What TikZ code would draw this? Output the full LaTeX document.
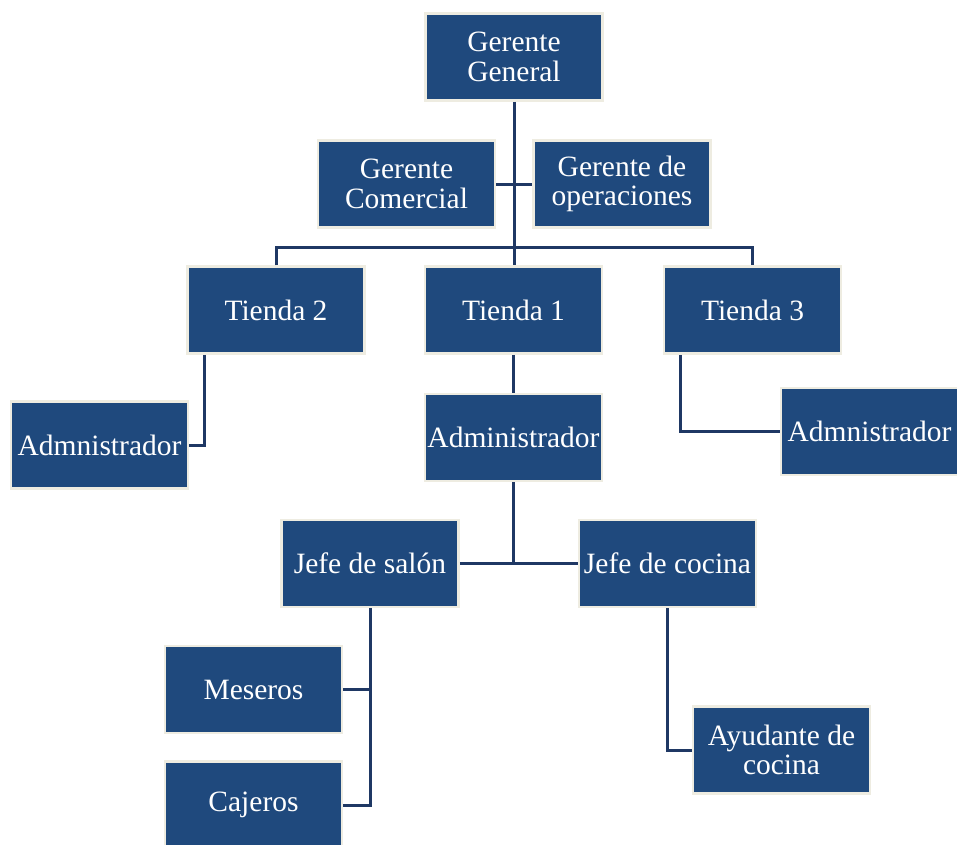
\documentclass[tikz,border=0pt]{standalone}
\usepackage{fontspec}
\setmainfont{Liberation Serif}
\usetikzlibrary{calc}
\definecolor{boxblue}{HTML}{1F497D}
\definecolor{boxedge}{HTML}{EEECE1}
\definecolor{linkblue}{HTML}{1F3864}
\tikzset{
  orgbox/.style={rectangle, fill=boxblue, draw=boxedge, line width=2.5pt,
    minimum width=177pt, minimum height=87pt, inner sep=0pt,
    text=white, align=center,
    font=\fontsize{29.5}{29.5}\selectfont},
  link/.style={draw=linkblue, line width=3pt}
}
\begin{document}
\begin{tikzpicture}[x=1pt, y=-1pt]
  \clip (0,0) rectangle (957,844);
  \fill[white] (0,0) rectangle (957,844);

  % top management
  \node[orgbox] (gg) at (514,57) {Gerente\\General};
  \node[orgbox] (gc) at (406.5,184) {Gerente\\Comercial};
  \node[orgbox] (go) at (622,184) {Gerente de\\operaciones};

  % stores
  \node[orgbox] (t2) at (276,310) {Tienda 2};
  \node[orgbox] (t1) at (513.5,310) {Tienda 1};
  \node[orgbox] (t3) at (752.5,310) {Tienda 3};

  % store administrators
  \node[orgbox] (a2) at (99.5,445) {Admnistrador};
  \node[orgbox] (a1) at (513.5,437.5) {Administrador};
  \node[orgbox] (a3) at (869.5,431.5) {Admnistrador};

  % store 1 staff
  \node[orgbox] (js) at (370,563.5) {Jefe de salón};
  \node[orgbox] (jc) at (667.5,563.5) {Jefe de cocina};
  \node[orgbox] (ms) at (253.5,689.5) {Meseros};
  \node[orgbox] (cj) at (253.5,805) {Cajeros};
  \node[orgbox] (ac) at (781.5,750) {Ayudante de\\cocina};

  % connectors
  \coordinate (bus) at ($(gg.south)+(0,146)$);
  \draw[link] (gg.south) -- (gg.south |- t1.north);
  \draw[link] (gc.east) -- (go.west);
  \draw[link] (t2.north) |- (bus) -| (t3.north);

  \draw[link] ($(t2.south west)+(18,0)$) |- (a2.east);
  \draw[link] (t1.south) -- (a1.north);
  \draw[link] ($(t3.south west)+(18,0)$) |- (a3.west);

  \draw[link] (js.east) -- (jc.west);
  \draw[link] (a1.south) -- (a1.south |- js.east);

  \draw[link] (js.south) |- (cj.east);
  \draw[link] (ms.east) -- (ms.east -| js.south);
  \draw[link] (jc.south) |- (ac.west);
\end{tikzpicture}
\end{document}
